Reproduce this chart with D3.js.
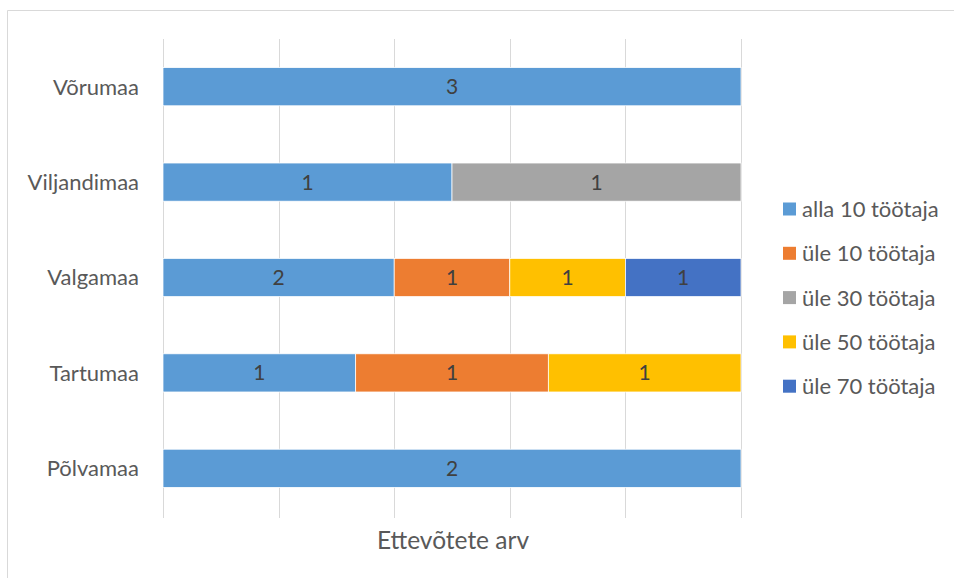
<!DOCTYPE html>
<html><head><meta charset="utf-8">
<script src="https://cdn.jsdelivr.net/npm/d3@7"></script>
<style>body{margin:0;background:#fff}svg{display:block}text{font-family:Lato,"Open Sans",sans-serif}</style>
</head><body><svg id="c" width="954" height="578"></svg>
<script>
const categories = ["Võrumaa","Viljandimaa","Valgamaa","Tartumaa","Põlvamaa"];
const seriesNames = ["alla 10 töötaja","üle 10 töötaja","üle 30 töötaja","üle 50 töötaja","üle 70 töötaja"];
const alla10 = [3,1,2,1,2];
const ule10  = [0,0,1,1,0];
const ule30  = [0,1,0,0,0];
const ule50  = [0,0,1,1,0];
const ule70  = [0,0,1,0,0];
const colors = ["#5B9BD5","#ED7D31","#A5A5A5","#FFC000","#4472C4"];
const axisTitle = "Ettevõtete arv";

const seriesVals = [alla10,ule10,ule30,ule50,ule70];
const rows = categories.map((c,i)=>{const o={cat:c}; seriesNames.forEach((s,j)=>o[s]=seriesVals[j][i]); return o;});
const stack = d3.stack().keys(seriesNames).offset(d3.stackOffsetExpand);
const stacked = stack(rows);

const svg = d3.select("#c");
// border
svg.append("path").attr("d","M7.5,578 V10.5 H954").attr("fill","none").attr("stroke","#d9d9d9").attr("stroke-width",1);

const x = d3.scaleLinear().domain([0,1]).range([163,741]);
const y = d3.scaleBand().domain(categories).range([39,516]).paddingInner(0.6).paddingOuter(0.3);

// gridlines
svg.append("g").selectAll("line").data(x.ticks(5)).join("line")
  .attr("x1",d=>Math.round(x(d))+0.5).attr("x2",d=>Math.round(x(d))+0.5)
  .attr("y1",39).attr("y2",518).attr("stroke","#d9d9d9").attr("stroke-width",1);

// bars
const g = svg.append("g");
stacked.forEach((s,j)=>{
  g.selectAll(null).data(s.filter(d=>d[1]-d[0]>0)).join("rect")
    .attr("x",d=>x(d[0])).attr("width",d=>x(d[1])-x(d[0]))
    .attr("y",d=>y(d.data.cat)).attr("height",y.bandwidth())
    .attr("fill",colors[j]).attr("stroke","#fff").attr("stroke-width",0.75);
  g.selectAll(null).data(s.filter(d=>d[1]-d[0]>0)).join("text")
    .attr("x",d=>(x(d[0])+x(d[1]))/2).attr("y",d=>y(d.data.cat)+y.bandwidth()/2)
    .attr("dy","0.36em").attr("text-anchor","middle").attr("font-size",21).attr("fill","#404040")
    .text(d=>d.data[seriesNames[j]]);
});

// category labels
svg.append("g").selectAll("text").data(categories).join("text")
  .attr("x",139).attr("y",d=>y(d)+y.bandwidth()/2).attr("dy","0.36em")
  .attr("text-anchor","end").attr("font-size",22).attr("fill","#595959").text(d=>d);

// axis title
svg.append("text").attr("x",453).attr("y",540).attr("dy","0.36em").attr("text-anchor","middle")
  .attr("font-size",24.5).attr("fill","#595959").text(axisTitle);

// legend
const lg = svg.append("g");
seriesNames.forEach((s,j)=>{
  const yy = 209 + j*44.3;
  lg.append("rect").attr("x",783).attr("y",yy-6.5).attr("width",13).attr("height",13).attr("fill",colors[j]);
  lg.append("text").attr("x",802).attr("y",yy).attr("dy","0.36em").attr("font-size",22).attr("fill","#595959").text(s);
});
</script></body></html>
